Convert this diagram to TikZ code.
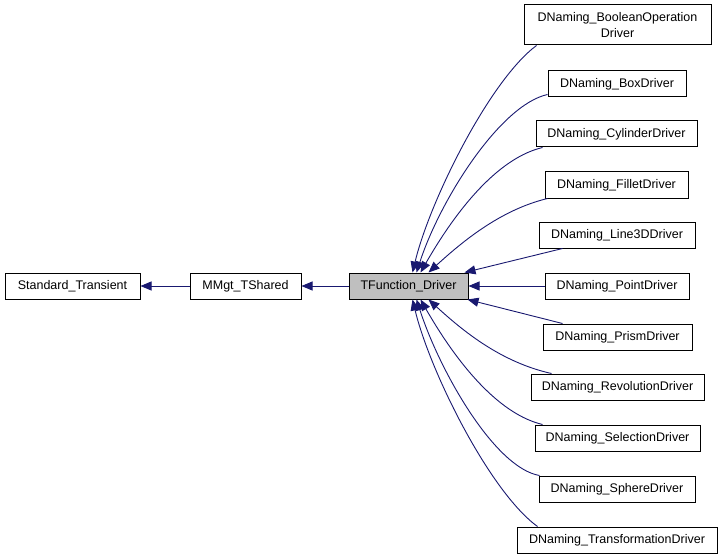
\documentclass[tikz,border=0pt]{standalone}
\usepackage{fontspec}
\setmainfont{Liberation Sans}
\usetikzlibrary{arrows.meta}
\definecolor{edgeblue}{RGB}{25,25,112}
\definecolor{curgray}{RGB}{191,191,191}
\begin{document}
\begin{tikzpicture}[x=1pt,y=-1pt]
		\tikzset{cls/.style = {shape=rectangle, draw=black, line width=1pt, fill=white, inner sep=0pt, minimum height=26pt, font=\fontsize{12.5}{16}\selectfont},
			dep/.style = {draw=edgeblue, line width=0.9pt, -{Triangle[length=11pt,width=9pt]}}}

		\useasboundingbox (0,0) rectangle (723,559);

		\node[cls, minimum width=135pt] (S_T) at (72.5,286) {Standard\_Transient};
		\node[cls, minimum width=111pt] (M_T) at (245.5,286) {MMgt\_TShared};
		\node[cls, minimum width=119pt, fill=curgray] (T_D) at (408.5,286) {TFunction\_Driver};

		\node[cls, minimum width=187pt, minimum height=40pt, align=center] (D_bool) at (617.5,25) {DNaming\_BooleanOperation\\Driver};
		\node[cls, minimum width=138pt] (D_box) at (617,84) {DNaming\_BoxDriver};
		\node[cls, minimum width=161pt] (D_cyl) at (616.5,134) {DNaming\_CylinderDriver};
		\node[cls, minimum width=143pt] (D_fil) at (616.5,185) {DNaming\_FilletDriver};
		\node[cls, minimum width=156pt] (D_lin) at (617,235) {DNaming\_Line3DDriver};
		\node[cls, minimum width=144pt] (D_pnt) at (617,286) {DNaming\_PointDriver};
		\node[cls, minimum width=149pt] (D_pri) at (617.5,337) {DNaming\_PrismDriver};
		\node[cls, minimum width=173pt] (D_rev) at (617.5,387) {DNaming\_RevolutionDriver};
		\node[cls, minimum width=165pt] (D_sel) at (617.5,438) {DNaming\_SelectionDriver};
		\node[cls, minimum width=156pt] (D_sph) at (617,489) {DNaming\_SphereDriver};
		\node[cls, minimum width=200pt] (D_tra) at (617,540) {DNaming\_TransformationDriver};


		\draw[dep] (M_T)--(S_T);
		\draw[dep] (T_D)--(M_T);


		\draw[dep] ([xshift=13pt]D_bool.south west) .. controls (490,80) and (430,200) .. ([xshift=4pt]T_D.north);
		\draw[dep] ([yshift=3pt]D_box.south west) .. controls (500,105) and (440,200) .. ([xshift=8pt]T_D.north);
		\draw[dep] ([xshift=7pt]D_cyl.south west) .. controls (490,160) and (446,228) .. ([xshift=12pt]T_D.north);
		\draw[dep] ([xshift=3pt]D_fil.south west) .. controls (500,210) and (462,242) .. ([xshift=20pt]T_D.north);
		\draw[dep] ([xshift=24pt]D_lin.south west)--([xshift=-4pt]T_D.north east);
		\draw[dep] (D_pnt)--(T_D);
		\draw[dep] ([xshift=20pt]D_pri.north west)--([xshift=-1pt]T_D.south east);
		\draw[dep] ([xshift=21pt]D_rev.north west) .. controls (500,362) and (462,330) .. ([xshift=20pt]T_D.south);
		\draw[dep] ([xshift=8pt]D_sel.north west) .. controls (490,412) and (446,344) .. ([xshift=12pt]T_D.south);
		\draw[dep] ([xshift=1pt]D_sph.north west) .. controls (495,468) and (440,372) .. ([xshift=8pt]T_D.south);
		\draw[dep] ([xshift=21pt]D_tra.north west) .. controls (490,492) and (430,372) .. ([xshift=4pt]T_D.south);

	\end{tikzpicture}
\end{document}
